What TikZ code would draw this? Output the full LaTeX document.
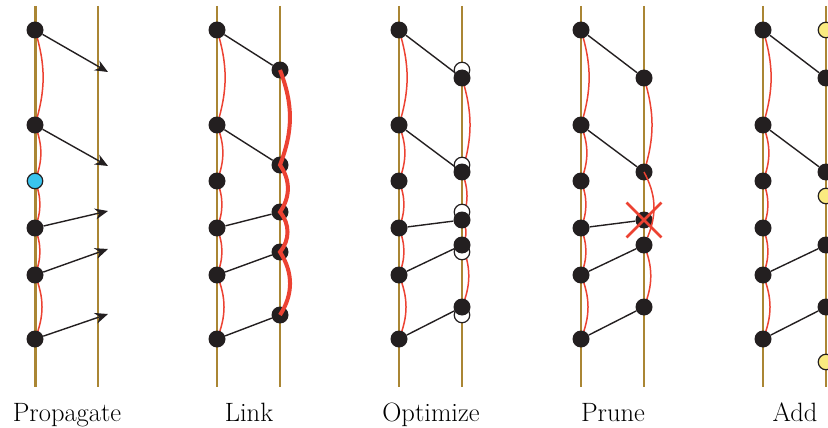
\documentclass[tikz,border=0pt]{standalone}
\usepackage{tikz}
\usetikzlibrary{shapes.misc}
\usetikzlibrary{arrows,arrows.meta}
\usetikzlibrary{backgrounds}
\definecolor{bronze}{RGB}{170,134,52}
\definecolor{chainred}{RGB}{236,66,50}
\definecolor{dotblack}{RGB}{35,31,32}
\definecolor{newblue}{RGB}{58,196,238}
\definecolor{addyellow}{RGB}{250,234,128}

\begin{document}
\begin{tikzpicture}[x=1pt, y=-1pt, >={Stealth[length=13pt,width=11pt]},
    dot/.style={circle, fill=dotblack, inner sep=0pt, minimum size=17pt},
    ringdot/.style={dot, draw=dotblack, line width=1.2pt, minimum size=15.5pt},
    track/.style={bronze, line width=2.6pt},
    bond/.style={dotblack, line width=1.4pt},
    chain/.style={chainred, line width=1.5pt},
    caption/.style={anchor=base, font=\fontsize{26.5}{30}\selectfont},
]

\useasboundingbox (0,0) rectangle (828,428);

% Propagate
\node[dot] (pl1) at (35,30) {};
\node[dot] (pl2) at (35,125) {};
\node[ringdot, fill=newblue] (pl3) at (35,181) {};
\node[dot] (pl4) at (35,228) {};
\node[dot] (pl5) at (35,275) {};
\node[dot] (pl6) at (35,339) {};

\begin{scope}[on background layer]
\draw[track, line width=3pt] (35,6) -- (35,387);
\draw[track, line width=2pt] (98,6) -- (98,387);
\draw[chain] (pl1.center) to[bend left=17] (pl2.center)
    to[bend left=21] (pl3.center) to[bend left=21] (pl4.center)
    to[bend left=21] (pl5.center) to[bend left=22] (pl6.center);
\end{scope}

\coordinate (pa1) at (108,72);
\coordinate (pa2) at (108,166);
\coordinate (pa3) at (108,211);
\coordinate (pa4) at (108,249);
\coordinate (pa5) at (108,314);

\draw[bond, ->] (pl1) -- (pa1);
\draw[bond, ->] (pl2) -- (pa2);
\draw[bond, ->] (pl4) -- (pa3);
\draw[bond, ->] (pl5) -- (pa4);
\draw[bond, ->] (pl6) -- (pa5);

\node[caption] (cprop) at (67,421) {Propagate};


% Link
\begin{scope}[shift={(182,0)}]
\node[dot] (kl1) at (35,30) {};
\node[dot] (kl2) at (35,125) {};
\node[dot] (kl3) at (35,181) {};
\node[dot] (kl4) at (35,228) {};
\node[dot] (kl5) at (35,275) {};
\node[dot] (kl6) at (35,339) {};

\node[dot] (kr1) at (98,70) {};
\node[dot] (kr2) at (98,165) {};
\node[dot] (kr3) at (98,212) {};
\node[dot] (kr4) at (98,252) {};
\node[dot] (kr5) at (98,315) {};

\begin{scope}[on background layer]
\draw[track] (35,6) -- (35,387);
\draw[track] (98,6) -- (98,387);
\draw[chain] (kl1.center) to[bend left=17] (kl2.center)
    to[bend left=21] (kl3.center) to[bend left=21] (kl4.center)
    to[bend left=21] (kl5.center) to[bend left=22] (kl6.center);
\end{scope}

\draw[bond] (kl1) -- (kr1);
\draw[bond] (kl2) -- (kr2);
\draw[bond] (kl4) -- (kr3);
\draw[bond] (kl5) -- (kr4);
\draw[bond] (kl6) -- (kr5);

\draw[chain, line width=4pt] (kr1.center) to[bend left=21] (kr2.center)
    to[bend left=35] (kr3.center) to[bend left=40] (kr4.center)
    to[bend left=33] (kr5.center);

\node[caption] (clink) at (67,421) {Link};
\end{scope}


% Optimize
\begin{scope}[shift={(364,0)}]
\node[dot] (ol1) at (35,30) {};
\node[dot] (ol2) at (35,125) {};
\node[dot] (ol3) at (35,181) {};
\node[dot] (ol4) at (35,228) {};
\node[dot] (ol5) at (35,275) {};
\node[dot] (ol6) at (35,339) {};

% alte Lage
\node[ringdot, fill=white] (oo1) at (98,70) {};
\node[ringdot, fill=white] (oo2) at (98,165) {};
\node[ringdot, fill=white] (oo3) at (98,212) {};
\node[ringdot, fill=white] (oo4) at (98,252) {};
\node[ringdot, fill=white] (oo5) at (98,315) {};

\node[dot] (or1) at (98,78) {};
\node[dot] (or2) at (98,172) {};
\node[dot] (or3) at (98,220) {};
\node[dot] (or4) at (98,245) {};
\node[dot] (or5) at (98,307) {};

\begin{scope}[on background layer]
\draw[track] (35,6) -- (35,387);
\draw[track] (98,6) -- (98,387);
\draw[chain] (ol1.center) to[bend left=17] (ol2.center)
    to[bend left=21] (ol3.center) to[bend left=21] (ol4.center)
    to[bend left=21] (ol5.center) to[bend left=22] (ol6.center);
\draw[chain] (or1.center) to[bend left=17] (or2.center)
    to[bend left=21] (or3.center) to[bend left=33] (or4.center)
    to[bend left=22] (or5.center);
\end{scope}

\draw[bond] (ol1) -- (or1);
\draw[bond] (ol2) -- (or2);
\draw[bond] (ol4) -- (or3);
\draw[bond] (ol5) -- (or4);
\draw[bond] (ol6) -- (or5);

\node[caption] (copt) at (67,421) {Optimize};
\end{scope}


% Prune
\begin{scope}[shift={(546,0)}]
\node[dot] (ul1) at (35,30) {};
\node[dot] (ul2) at (35,125) {};
\node[dot] (ul3) at (35,181) {};
\node[dot] (ul4) at (35,228) {};
\node[dot] (ul5) at (35,275) {};
\node[dot] (ul6) at (35,339) {};

\node[dot] (ur1) at (98,78) {};
\node[dot] (ur2) at (98,172) {};
\node[dot] (ur3) at (98,220) {};
\node[dot] (ur4) at (98,245) {};
\node[dot] (ur5) at (98,307) {};

\begin{scope}[on background layer]
\draw[track] (35,6) -- (35,387);
\draw[track] (98,6) -- (98,387);
\draw[chain] (ul1.center) to[bend left=17] (ul2.center)
    to[bend left=21] (ul3.center) to[bend left=21] (ul4.center)
    to[bend left=21] (ul5.center) to[bend left=22] (ul6.center);
\draw[chain] (ur1.center) to[bend left=17] (ur2.center);
\draw[chain] (ur4.center) to[bend left=22] (ur5.center);
\end{scope}

\draw[chain] (ur2.center) to[bend left=25] (ur4);

\draw[bond] (ul1) -- (ur1);
\draw[bond] (ul2) -- (ur2);
\draw[bond] (ul4) -- (ur3);
\draw[bond] (ul5) -- (ur4);
\draw[bond] (ul6) -- (ur5);

\node[cross out, draw=chainred, line width=2.8pt, inner sep=0pt,
    minimum size=32pt] (ux) at (ur3) {};

\node[caption] (cprune) at (67,421) {Prune};
\end{scope}


% Add
\begin{scope}[shift={(728,0)}]
\node[dot] (al1) at (35,30) {};
\node[dot] (al2) at (35,125) {};
\node[dot] (al3) at (35,181) {};
\node[dot] (al4) at (35,228) {};
\node[dot] (al5) at (35,275) {};
\node[dot] (al6) at (35,339) {};

\node[dot] (ar1) at (98,78) {};
\node[dot] (ar2) at (98,172) {};
\node[dot] (ar3) at (98,245) {};
\node[dot] (ar4) at (98,307) {};

\node[ringdot, fill=addyellow] (ay1) at (98,30) {};
\node[ringdot, fill=addyellow] (ay2) at (98,196) {};
\node[ringdot, fill=addyellow] (ay3) at (98,362) {};

\begin{scope}[on background layer]
\draw[track] (35,6) -- (35,387);
\draw[track] (98,6) -- (98,387);
\draw[chain] (al1.center) to[bend left=17] (al2.center)
    to[bend left=21] (al3.center) to[bend left=21] (al4.center)
    to[bend left=21] (al5.center) to[bend left=22] (al6.center);
\end{scope}

\draw[bond] (al1) -- (ar1);
\draw[bond] (al2) -- (ar2);
\draw[bond] (al5) -- (ar3);
\draw[bond] (al6) -- (ar4);

\node[caption] (cadd) at (67,421) {Add};
\end{scope}

\end{tikzpicture}
\end{document}
